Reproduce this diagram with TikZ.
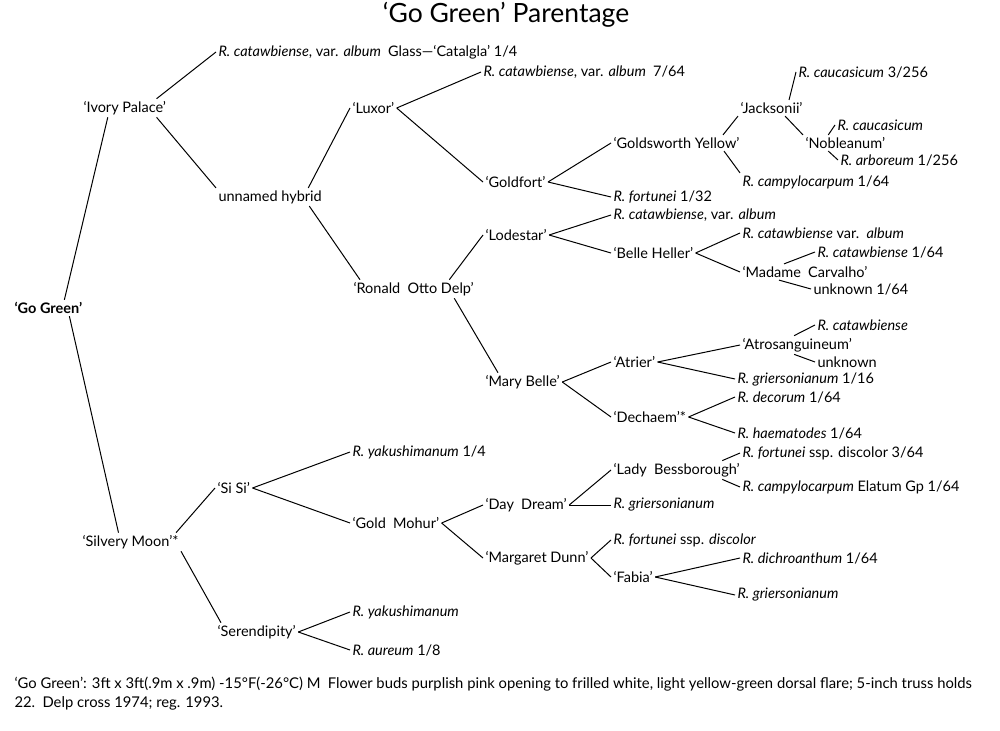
\documentclass[tikz,border=0pt]{standalone}
\usepackage{fontspec}
\setmainfont{Lato}
\usepackage{tikz}

\begin{document}
\begin{tikzpicture}[x=1pt, y=-1pt, line width=1pt,
    plant/.style={anchor=west, inner sep=2pt, font=\fontsize{14.5}{17}\selectfont},
    note/.style={anchor=west, inner sep=0pt, font=\fontsize{14.8}{18}\selectfont}]
    \useasboundingbox (0,0) rectangle (1000,730);

    \node[inner sep=0pt, font=\fontsize{26.5}{30}\selectfont] (title) at (506,15) {`Go Green' Parentage};

    % main line
    \node[plant] (gogreen) at (12,308) {\textbf{`Go Green'}};
    \node[plant] (ivory) at (81,108) {`Ivory Palace'};
    \node[plant] (silvery) at (80,542) {`Silvery Moon'*};

    % Ivory Palace side
    \node[plant] (catalgla) at (216,52) {\textit{R. catawbiense}, var. \textit{album}\enspace Glass---`Catalgla' 1/4};
    \node[plant] (unnamed) at (216,197) {unnamed hybrid};
    \node[plant] (luxor) at (350,108) {`Luxor'};
    \node[plant] (rod) at (351,289) {`Ronald\enspace Otto Delp'};
    \node[plant] (cat764) at (481,72) {\textit{R. catawbiense}, var. \textit{album}\enspace 7/64};
    \node[plant] (goldfort) at (483,182) {`Goldfort'};
    \node[plant] (goldsworth) at (611,143) {`Goldsworth Yellow'};
    \node[plant] (fort132) at (611,197) {\textit{R. fortunei} 1/32};
    \node[plant] (jacksonii) at (738,108) {`Jacksonii'};
    \node[plant] (campy164) at (740,182) {\textit{R. campylocarpum} 1/64};
    \node[plant] (cauc3256) at (796,72) {\textit{R. caucasicum} 3/256};
    \node[plant] (noble) at (803,143) {`Nobleanum'};
    \node[plant] (cauc) at (835,125) {\textit{R. caucasicum}};
    \node[plant] (arbor) at (838,160) {\textit{R. arboreum} 1/256};
    \node[plant] (lodestar) at (483,235) {`Lodestar'};
    \node[plant] (catalb) at (611,215) {\textit{R. catawbiense}, var. \textit{album}};
    \node[plant] (belle) at (611,253) {`Belle Heller'};
    \node[plant] (catalb2) at (740,233) {\textit{R. catawbiense} var.\enspace\textit{album}};
    \node[plant] (madame) at (740,272) {`Madame\enspace Carvalho'};
    \node[plant] (cat164) at (815,252) {\textit{R. catawbiense} 1/64};
    \node[plant] (unk164) at (811,289) {unknown 1/64};
    \node[plant] (marybelle) at (483,382) {`Mary Belle'};
    \node[plant] (atrier) at (611,362) {`Atrier'};
    \node[plant] (atros) at (740,345) {`Atrosanguineum'};
    \node[plant] (catw) at (815,325) {\textit{R. catawbiense}};
    \node[plant] (unk) at (815,362) {unknown};
    \node[plant] (gri116) at (735,379) {\textit{R. griersonianum} 1/16};
    \node[plant] (dechaem) at (611,417) {`Dechaem'*};
    \node[plant] (decorum) at (735,397) {\textit{R. decorum} 1/64};
    \node[plant] (haema) at (735,433) {\textit{R. haematodes} 1/64};

    % Silvery Moon side
    \node[plant] (sisi) at (215,488) {`Si Si'};
    \node[plant] (yaku14) at (350,452) {\textit{R. yakushimanum} 1/4};
    \node[plant] (goldmohur) at (350,523) {`Gold\enspace Mohur'};
    \node[plant] (serendipity) at (215,632) {`Serendipity'};
    \node[plant] (yaku) at (350,612) {\textit{R. yakushimanum}};
    \node[plant] (aureum) at (350,650) {\textit{R. aureum} 1/8};
    \node[plant] (daydream) at (483,505) {`Day\enspace Dream'};
    \node[plant] (ladyb) at (611,470) {`Lady\enspace Bessborough'};
    \node[plant] (fortdisc364) at (740,453) {\textit{R. fortunei} ssp. discolor 3/64};
    \node[plant] (campyelat) at (740,487) {\textit{R. campylocarpum} Elatum Gp 1/64};
    \node[plant] (gri1) at (611,505) {\textit{R. griersonianum}};
    \node[plant] (margaret) at (483,558) {`Margaret Dunn'};
    \node[plant] (fortdisc) at (611,540) {\textit{R. fortunei} ssp. \textit{discolor}};
    \node[plant] (fabia) at (611,577) {`Fabia'};
    \node[plant] (dichro) at (740,558) {\textit{R. dichroanthum} 1/64};
    \node[plant] (gri2) at (735,595) {\textit{R. griersonianum}};

    % footnote
    \node[note] (desc1) at (14,684) {`Go Green': 3ft x 3ft(.9m x .9m) -15°F(-26°C) M\enspace Flower buds purplish pink opening to frilled white, light yellow-green dorsal flare; 5-inch truss holds};
    \node[note] (desc2) at (14,703) {22.\enspace Delp cross 1974; reg. 1993.};

    \path
    ([xshift=16pt]gogreen.north) edge ([xshift=-17pt]ivory.south)
    ([xshift=21pt]gogreen.south) edge ([xshift=-12pt]silvery.north)
    ([xshift=-12pt]ivory.north east) edge (catalgla.west)
    ([xshift=-12pt]ivory.south east) edge (unnamed.north west)
    ([xshift=-16pt]unnamed.north east) edge (luxor.west)
    ([xshift=-15pt]unnamed.south east) edge ([xshift=9pt]rod.north west)
    (luxor.east) edge (cat764.west)
    (luxor.east) edge (goldfort.west)
    (goldfort.east) edge (goldsworth.west)
    (goldfort.east) edge (fort132.west)
    ([xshift=-19pt]goldsworth.north east) edge (jacksonii.south west)
    ([xshift=-18pt]goldsworth.south east) edge (campy164.north west)
    ([xshift=-16pt]jacksonii.north east) edge (cauc3256.west)
    ([xshift=-20pt]jacksonii.south east) edge (noble.north west)
    ([xshift=-17pt]noble.north) edge (cauc.west)
    ([xshift=-17pt]noble.south) edge (arbor.west)
    ([xshift=-27pt]rod.north east) edge (lodestar.west)
    ([xshift=-22pt]rod.south east) edge ([xshift=15pt]marybelle.north west)
    (lodestar.east) edge (catalb.west)
    (lodestar.east) edge (belle.west)
    (belle.east) edge (catalb2.west)
    (belle.east) edge (madame.west)
    ([xshift=-21pt]madame.north) edge (cat164.west)
    ([xshift=-26pt]madame.south) edge (unk164.west)
    (marybelle.east) edge (atrier.west)
    (marybelle.east) edge (dechaem.west)
    (atrier.east) edge (atros.west)
    (atrier.east) edge (gri116.west)
    ([xshift=-3pt]atros.north) edge (catw.west)
    ([xshift=-3pt]atros.south) edge (unk.west)
    (dechaem.east) edge (decorum.west)
    (dechaem.east) edge (haema.west);

    \path
    ([xshift=-5pt]silvery.north east) edge (sisi.west)
    (silvery.south east) edge ([xshift=6pt]serendipity.north west)
    (sisi.east) edge (yaku14.west)
    (sisi.east) edge (goldmohur.west)
    (serendipity.east) edge (yaku.west)
    (serendipity.east) edge (aureum.west)
    (goldmohur.east) edge (daydream.west)
    (goldmohur.east) edge (margaret.west)
    (daydream.east) edge (ladyb.west)
    (daydream.east) edge (gri1.west)
    ([xshift=-20pt]ladyb.north east) edge (fortdisc364.west)
    ([xshift=-20pt]ladyb.south east) edge (campyelat.west)
    (margaret.east) edge (fortdisc.west)
    (margaret.east) edge (fabia.west)
    (fabia.east) edge (dichro.west)
    (fabia.east) edge (gri2.west);
\end{tikzpicture}
\end{document}
